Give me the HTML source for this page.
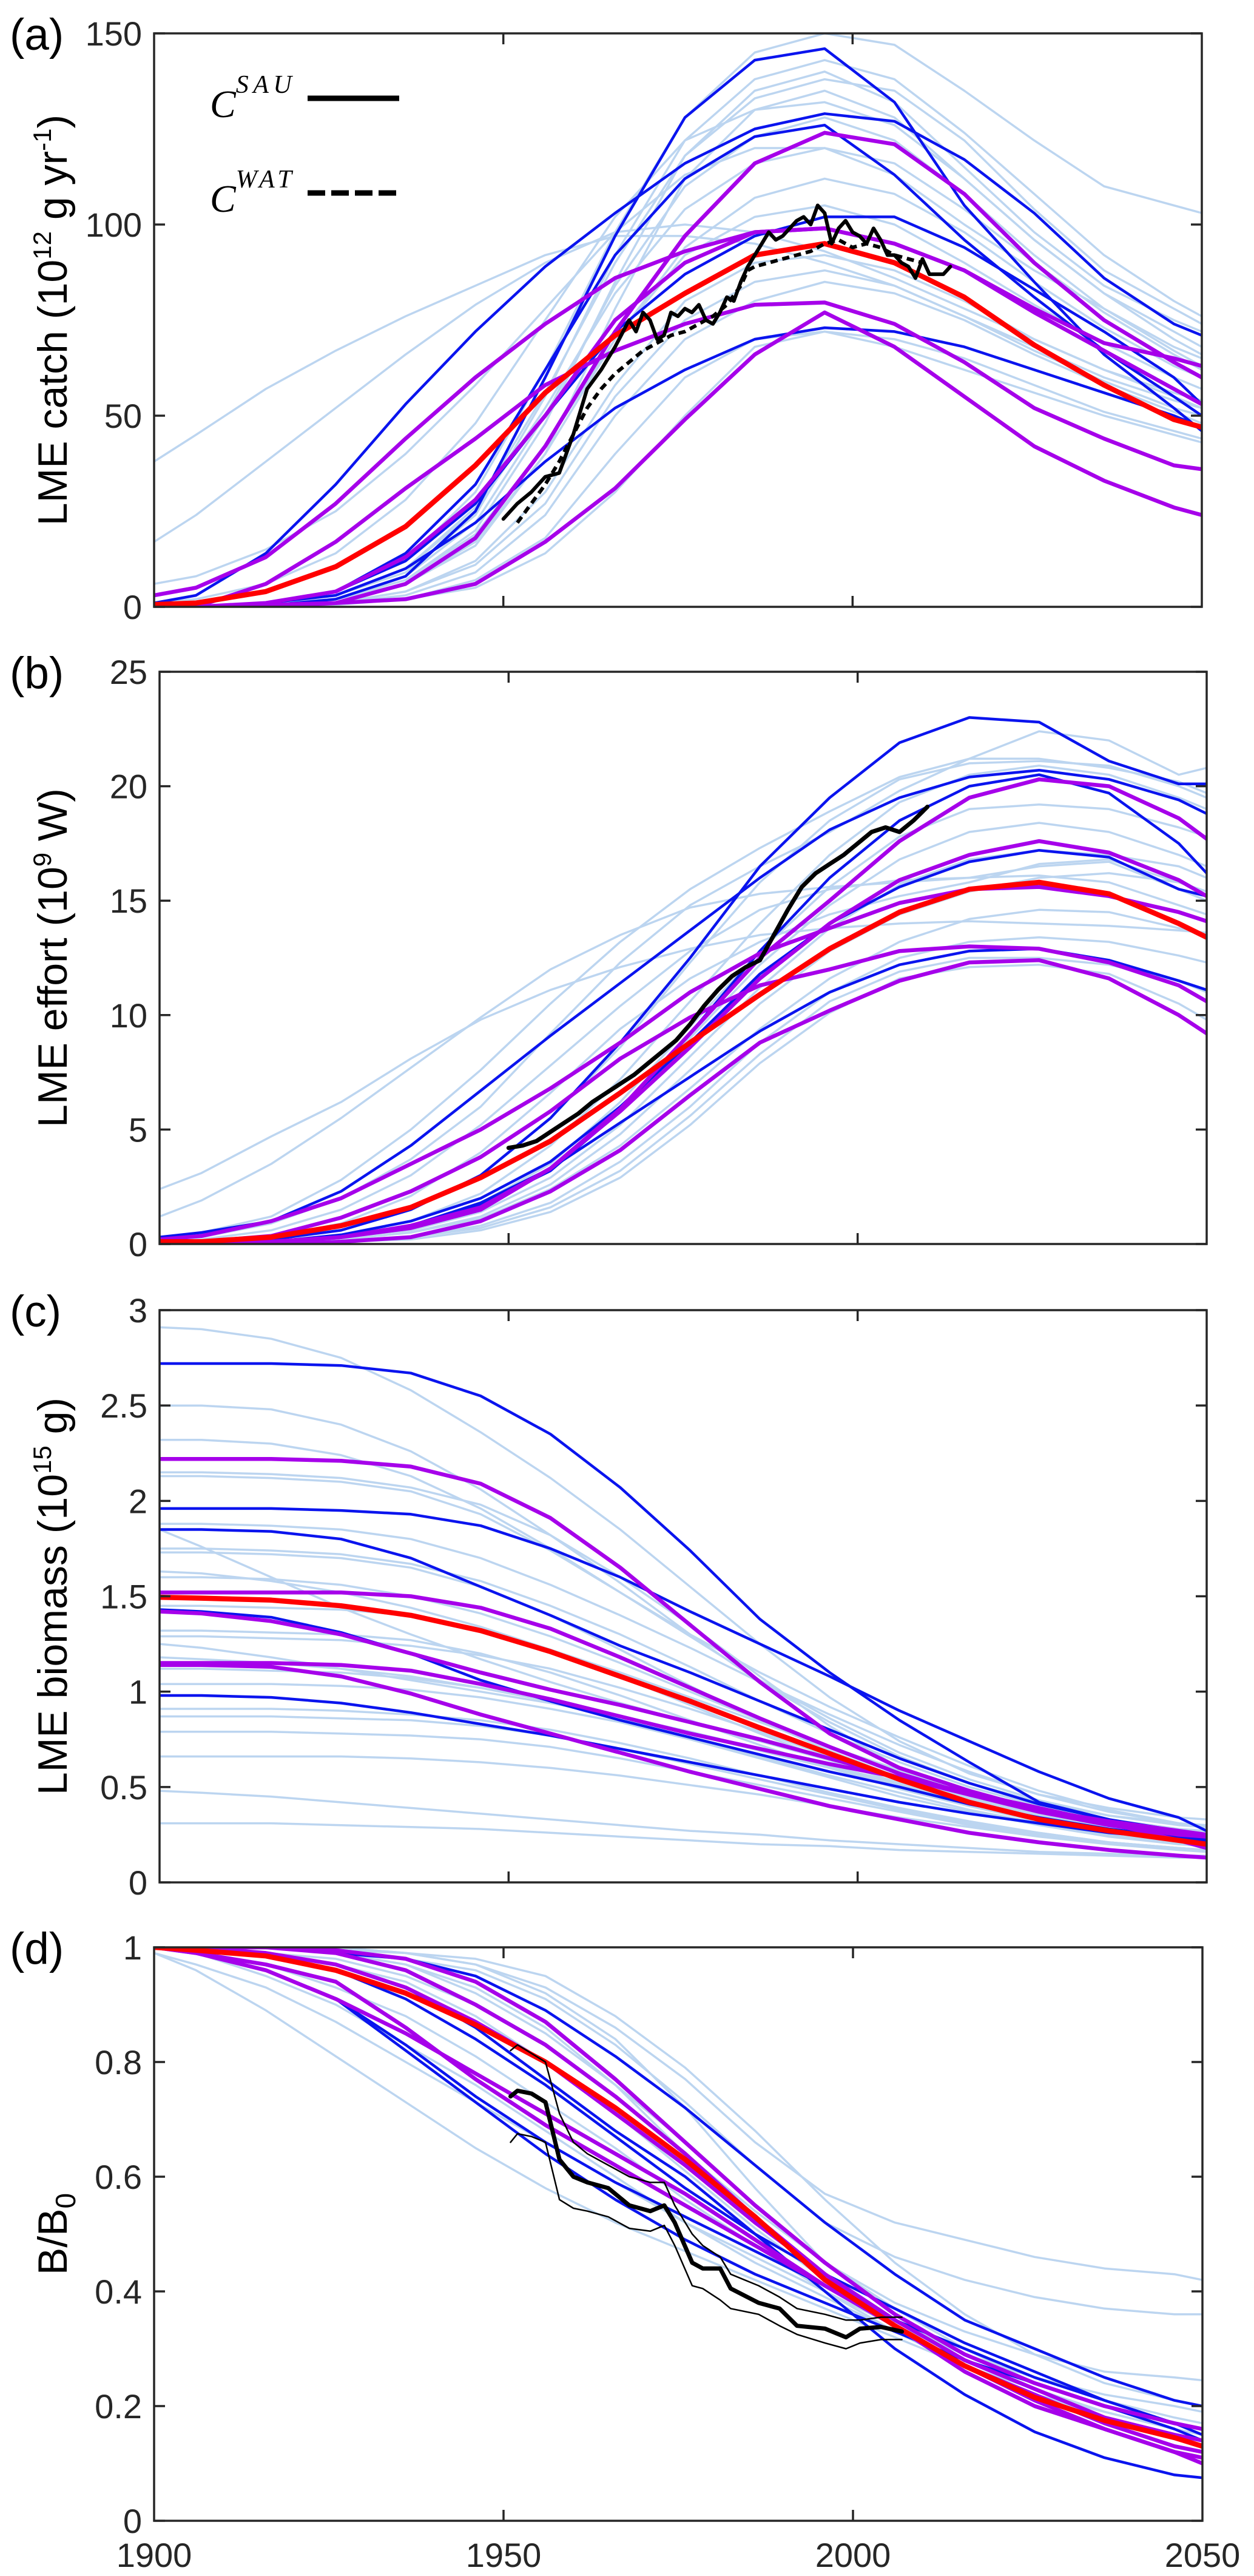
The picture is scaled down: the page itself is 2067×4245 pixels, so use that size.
<!DOCTYPE html>
<html><head><meta charset="utf-8"><style>
html,body{margin:0;padding:0;background:#fff;}
svg{display:block;font-family:"Liberation Sans",Arial,sans-serif;}
</style></head><body>
<svg id="fig" width="2067" height="4245" viewBox="0 0 2067 4245" xmlns="http://www.w3.org/2000/svg">
<rect width="2067" height="4245" fill="#fff"/>
</svg>
<script>
// ---------- shared model years ----------
const years = [1900,1906,1916,1926,1936,1946,1956,1966,1976,1986,1996,2006,2016,2026,2036,2046,2050];

// ---------- panel (a) catch ----------
const catchLight = [
[0,0,1,4,12,30,62,98,128,145,150,147,135,122,110,105,103],
[0,0,1,3,9,24,55,92,122,138,143,138,124,108,92,80,76],
[0,0,0.5,2,7,20,48,85,118,135,140,132,115,98,84,75,72],
[0,0,1,3,10,26,56,90,118,133,138,135,122,104,88,78,74],
[0,0,0.5,2,6,16,40,78,112,130,135,128,112,96,82,72,68],
[1,2,6,14,28,48,75,102,122,130,132,126,112,96,82,70,66],
[0,0,0.5,2,8,22,50,84,110,123,128,122,108,92,78,67,63],
[0,0,1,3,10,25,52,82,104,116,120,116,104,90,77,66,62],
[0,0,0.5,2,6,17,40,70,94,107,112,108,98,85,73,63,60],
[0,0,1,2,7,19,42,70,92,102,105,100,90,79,69,60,57],
[0,0,0.5,1,4,12,30,58,80,90,92,88,80,70,62,55,52],
[0,0,0.5,1,4,11,27,55,75,85,88,84,76,67,59,52,50],
[0,0,0.5,1,3,9,24,50,70,80,85,82,75,66,58,51,48],
[0,0,0,1,2,7,18,40,60,70,72,70,65,58,51,46,44],
[38,45,57,67,76,84,92,97,97,95,90,84,76,68,60,54,52],
[17,24,38,52,66,79,90,98,100,98,93,86,78,70,62,56,54],
[6,8,15,25,40,58,78,98,113,120,120,113,100,88,78,68,65],
[0,0,0,0.5,2,5,14,30,50,68,72,68,62,56,50,45,43]
];
const catchBlue = [
[0,0,0.3,2,8,25,60,97,128,143,146,132,105,85,66,52,46],
[1,3,14,32,53,72,89,103,116,125,129,127,117,103,86,74,71],
[0,0,1,4,14,32,62,92,112,123,126,113,96,81,67,55,50],
[0,0,1,4,12,27,50,72,87,97,102,102,94,83,72,60,53],
[0,0,1,3,10,22,38,52,62,70,73,72,68,62,56,50,47]
];
const catchPurple = [
[0,0,0.5,1,6,18,42,72,97,116,124,121,108,90,75,64,60],
[3,5,13,27,44,60,74,86,93,98,99,95,88,78,69,65,63],
[0,0,1,4,13,28,50,75,90,98,99,95,88,77,67,57,53],
[0,0,6,17,31,44,58,67,74,79,79.6,74,64,52,44,37,36],
[0,0,0,1,2,6,17,31,49,66,77,68,55,42,33,26,24]
];
const catchRed = [0.6,1,4,10.5,21,37,56,71,82,92,95,90,81,68.5,58,49,47];
const sauYears = [1950,1952,1954,1956,1958,1960,1962,1964,1966,1968,1969,1970,1971,1972,1973,1974,1975,1976,1977,1978,1979,1980,1981,1982,1983,1984,1985,1986,1987,1988,1989,1990,1991,1992,1993,1994,1995,1996,1997,1998,1999,2000,2001,2002,2003,2004,2005,2006,2007,2008,2009,2010,2011,2012,2013,2014];
const sauValues = [23,27,30,34,35,45,57,62,68,75,72,77,75,70,71,77,76,78,77,79,75,74,77,81,80,85,89,92,95,98,96,97,99,101,102,100,105,103,95,99,101,98,97,95,99,96,92,92,90,89,86,91,87,87,87,89];
const watYears = [1952,1954,1956,1958,1960,1962,1964,1966,1968,1970,1972,1974,1976,1978,1980,1982,1984,1985,1986,1988,1990,1992,1994,1996,1998,2000,2002,2004,2006,2008,2010];
const watValues = [22,27,32,38,45,52,57,61,64,67,69,71,72,74,76,79,84,88,89,90,91,92,93,95,96,94,95,94,92,91,90];

// ---------- panel (b) effort ----------
const effortLight = [
[2.4,3.1,4.7,6.2,8.1,9.8,11.1,12.1,12.9,13.5,13.8,14.0,14.1,14.0,13.9,13.7,13.6],
[1.2,1.9,3.5,5.5,7.7,9.9,12.0,13.5,14.7,15.3,15.6,15.8,16.0,16.5,16.7,15.5,15],
[0.3,0.5,1.2,2.8,5,7.6,10.5,13.2,15.5,17.3,18.9,20.4,21.2,21.2,20.8,20.2,19.7],
[0.2,0.3,0.9,2,3.7,6,9.2,12.3,14.8,16.5,18,19.8,21.2,22.4,22,20.5,20.8],
[0,0,0.2,0.6,1.5,3,5.5,8.6,12.3,15.8,18.5,20.3,21,21.1,20.9,20,19.5],
[0,0,0.1,0.4,1,2.2,4.3,7.2,10.6,14,17,19.3,20.5,20.9,20.5,19.5,19],
[0,0,0.1,0.3,0.8,1.8,3.5,6.2,9.5,12.8,15.6,17.8,19.0,19.2,19,18.2,17.8],
[0,0,0.1,0.3,0.7,1.6,3.2,5.8,9.0,12.2,14.8,16.8,18,18.4,18,17,16.5],
[0,0,0.1,0.3,0.6,1.4,2.9,5.2,8.2,11.2,13.8,15.7,16.8,17.2,17,16.5,16],
[0,0,0,0.2,0.5,1.2,2.6,4.8,7.6,10.5,12.8,14.4,15.4,16,16.2,15.8,15.4],
[0,0,0.1,0.2,0.5,1.1,2.4,4.3,6.8,9.4,11.6,13.2,14.2,14.6,14.5,13.8,13.5],
[0,0,0,0.1,0.3,0.8,1.8,3.6,6,8.8,11,12.5,13.2,13.4,13.2,12.6,12.3],
[0,0,0,0.1,0.3,0.7,1.6,3.2,5.6,8.3,10.6,11.9,12.5,12.5,12.2,11.5,11],
[0,0,0,0.1,0.2,0.6,1.4,2.9,5.2,7.9,10.1,11.6,12.1,12.2,11.8,10.5,9.8],
[0,0.1,0.3,0.9,2.1,4,6.6,9.4,11.6,13.2,14.4,15.2,15.8,16.6,16.8,15.8,15.4],
[0.1,0.2,0.6,1.5,3,5.2,7.8,10.4,12.8,14.6,15.5,15.9,16,16.1,15.8,14.8,14.4]
];
const effortBlue = [
[0,0,0.2,0.6,1.5,3,5.5,8.8,12.5,16.5,19.5,21.9,23,22.8,21.1,20.1,20.1],
[0.3,0.5,1,2.3,4.3,6.7,9.1,11.4,13.7,16,18.1,19.5,20.4,20.7,20.3,19.4,18.8],
[0,0,0.1,0.3,0.7,1.7,3.2,5.8,9.2,12.8,16,18.5,20,20.5,19.7,17.5,16.2],
[0,0,0.1,0.4,1,2,3.6,6,8.8,11.8,14,15.6,16.7,17.2,16.9,15.5,15.2],
[0,0,0.1,0.3,0.8,1.8,3.3,5.3,7.3,9.3,11.0,12.2,12.8,12.9,12.4,11.5,11.1]
];
const effortPurple = [
[0,0,0.1,0.3,0.8,1.6,3.3,5.9,9.2,12.5,15,17.6,19.5,20.3,20.0,18.6,17.7],
[0,0,0.1,0.3,0.7,1.5,3.3,5.8,8.6,11.6,14.0,15.9,17.0,17.6,17.1,15.9,15.2],
[0.2,0.35,1,2,3.5,5,6.8,8.8,11,12.7,13.8,14.9,15.5,15.6,15.2,14.5,14.1],
[0,0.1,0.35,1.15,2.3,3.8,5.8,8.1,9.9,11.3,12,12.8,13,12.9,12.3,11.3,10.6],
[0,0,0,0.1,0.3,1,2.3,4.1,6.5,8.8,10.2,11.5,12.3,12.4,11.6,10,9.2]
];
const effortRed = [0.1,0.1,0.3,0.8,1.6,2.9,4.5,6.6,8.8,10.9,12.9,14.5,15.5,15.8,15.3,14.0,13.4];
const effObsYears = [1950,1952,1954,1956,1958,1960,1962,1964,1966,1968,1970,1972,1974,1976,1978,1980,1982,1984,1986,1988,1990,1992,1994,1996,1998,2000,2002,2004,2006,2008,2010];
const effObsValues = [4.2,4.3,4.5,4.9,5.3,5.7,6.2,6.6,7.0,7.4,7.9,8.4,8.9,9.6,10.4,11.1,11.7,12.1,12.4,13.5,14.6,15.6,16.2,16.6,17.0,17.5,18.0,18.2,18.0,18.5,19.1];

// ---------- panel (c) biomass ----------
const bioLight = [
[2.91,2.9,2.85,2.75,2.58,2.36,2.12,1.85,1.55,1.25,0.97,0.74,0.57,0.46,0.39,0.34,0.33],
[2.5,2.5,2.48,2.4,2.26,2.06,1.82,1.57,1.3,1.05,0.84,0.66,0.52,0.42,0.35,0.31,0.3],
[2.32,2.32,2.3,2.24,2.13,1.96,1.75,1.52,1.29,1.06,0.86,0.68,0.54,0.43,0.35,0.3,0.29],
[2.15,2.15,2.14,2.12,2.07,1.98,1.82,1.6,1.35,1.08,0.82,0.6,0.45,0.35,0.29,0.25,0.24],
[2.13,2.13,2.12,2.1,2.05,1.93,1.74,1.52,1.3,1.1,0.92,0.76,0.61,0.48,0.38,0.31,0.29],
[1.88,1.88,1.87,1.85,1.8,1.7,1.56,1.4,1.23,1.05,0.88,0.72,0.58,0.46,0.37,0.31,0.29],
[1.85,1.76,1.6,1.44,1.3,1.17,1.05,0.94,0.84,0.74,0.64,0.54,0.45,0.37,0.3,0.25,0.24],
[1.75,1.75,1.74,1.72,1.67,1.58,1.45,1.3,1.13,0.95,0.78,0.63,0.5,0.4,0.33,0.28,0.27],
[1.73,1.73,1.72,1.7,1.65,1.55,1.4,1.22,1.03,0.85,0.69,0.55,0.44,0.36,0.3,0.26,0.25],
[1.63,1.62,1.58,1.52,1.44,1.34,1.22,1.1,0.97,0.84,0.71,0.59,0.48,0.39,0.32,0.27,0.26],
[1.6,1.6,1.59,1.56,1.5,1.41,1.29,1.15,1.0,0.85,0.71,0.58,0.47,0.38,0.31,0.26,0.25],
[1.45,1.45,1.44,1.43,1.4,1.33,1.22,1.08,0.93,0.78,0.64,0.52,0.42,0.34,0.28,0.24,0.23],
[1.32,1.32,1.31,1.3,1.27,1.2,1.1,0.98,0.85,0.72,0.6,0.49,0.4,0.32,0.26,0.22,0.21],
[1.29,1.29,1.28,1.27,1.24,1.19,1.12,1.02,0.91,0.79,0.66,0.54,0.43,0.34,0.27,0.23,0.22],
[1.25,1.23,1.18,1.12,1.06,1.0,0.94,0.87,0.79,0.7,0.61,0.52,0.43,0.35,0.28,0.23,0.22],
[1.18,1.17,1.15,1.12,1.08,1.02,0.95,0.87,0.78,0.69,0.6,0.51,0.42,0.34,0.27,0.22,0.21],
[1.12,1.12,1.11,1.1,1.07,1.02,0.95,0.86,0.76,0.66,0.56,0.47,0.38,0.31,0.25,0.21,0.2],
[1.04,1.04,1.04,1.03,1.01,0.97,0.91,0.84,0.75,0.65,0.55,0.45,0.37,0.3,0.24,0.2,0.19],
[0.91,0.91,0.91,0.9,0.88,0.85,0.8,0.73,0.65,0.56,0.47,0.39,0.32,0.26,0.21,0.18,0.17],
[0.87,0.87,0.87,0.86,0.85,0.82,0.77,0.7,0.62,0.54,0.46,0.38,0.31,0.26,0.21,0.18,0.17],
[0.79,0.79,0.79,0.78,0.77,0.75,0.71,0.65,0.58,0.51,0.44,0.37,0.3,0.25,0.21,0.18,0.17],
[0.66,0.66,0.66,0.66,0.65,0.63,0.6,0.56,0.51,0.46,0.4,0.34,0.29,0.24,0.2,0.17,0.16],
[0.48,0.47,0.45,0.42,0.39,0.36,0.33,0.3,0.27,0.25,0.22,0.2,0.18,0.16,0.15,0.14,0.14],
[0.31,0.31,0.31,0.3,0.29,0.28,0.26,0.24,0.22,0.2,0.19,0.17,0.16,0.15,0.14,0.13,0.13]
];
const bioBlue = [
[2.72,2.72,2.72,2.71,2.67,2.55,2.35,2.07,1.74,1.38,1.1,0.85,0.63,0.42,0.33,0.25,0.23],
[1.96,1.96,1.96,1.95,1.93,1.87,1.75,1.6,1.42,1.25,1.08,0.9,0.74,0.58,0.44,0.34,0.27],
[1.85,1.85,1.84,1.8,1.7,1.55,1.40,1.24,1.10,0.95,0.80,0.65,0.52,0.41,0.33,0.27,0.24],
[1.43,1.42,1.39,1.31,1.20,1.06,0.95,0.85,0.76,0.67,0.58,0.50,0.41,0.34,0.28,0.24,0.22],
[0.98,0.98,0.97,0.94,0.89,0.83,0.77,0.70,0.63,0.56,0.49,0.42,0.36,0.31,0.26,0.23,0.22]
];
const bioPurple = [
[2.22,2.22,2.22,2.21,2.18,2.09,1.91,1.65,1.35,1.05,0.78,0.6,0.48,0.38,0.31,0.26,0.25],
[1.52,1.52,1.52,1.52,1.50,1.44,1.33,1.18,1.02,0.86,0.71,0.57,0.46,0.37,0.30,0.25,0.24],
[1.42,1.41,1.37,1.30,1.20,1.10,1.01,0.93,0.84,0.75,0.65,0.55,0.46,0.38,0.32,0.27,0.25],
[1.15,1.15,1.15,1.14,1.11,1.04,0.96,0.87,0.78,0.70,0.62,0.55,0.47,0.39,0.31,0.22,0.18],
[1.14,1.14,1.13,1.08,0.99,0.88,0.78,0.68,0.58,0.49,0.40,0.33,0.26,0.21,0.17,0.14,0.13]
];
const bioRed = [1.495,1.49,1.48,1.45,1.40,1.32,1.21,1.08,0.95,0.81,0.675,0.54,0.42,0.33,0.27,0.22,0.2];

// ---------- panel (d) B/B0 ----------
const relLight = [
[0.99,0.96,0.89,0.81,0.73,0.65,0.58,0.52,0.47,0.42,0.37,0.32,0.27,0.23,0.19,0.16,0.15],
[1,1,1,1,0.99,0.97,0.93,0.86,0.77,0.66,0.57,0.52,0.49,0.46,0.44,0.43,0.42],
[1,1,1,0.99,0.98,0.96,0.91,0.83,0.73,0.62,0.52,0.46,0.42,0.39,0.37,0.36,0.36],
[1,1,1,0.995,0.99,0.97,0.92,0.84,0.72,0.58,0.45,0.38,0.33,0.29,0.26,0.25,0.245],
[1,1,1,0.99,0.97,0.93,0.86,0.76,0.64,0.53,0.43,0.35,0.29,0.25,0.22,0.20,0.19],
[1,1,0.99,0.98,0.95,0.90,0.83,0.74,0.64,0.54,0.45,0.37,0.3,0.25,0.21,0.18,0.17],
[1,0.99,0.97,0.93,0.88,0.81,0.73,0.65,0.56,0.48,0.40,0.33,0.27,0.22,0.19,0.16,0.15],
[1,0.99,0.95,0.90,0.83,0.76,0.68,0.60,0.52,0.45,0.39,0.33,0.28,0.23,0.19,0.16,0.15],
[1,1,0.99,0.97,0.94,0.88,0.80,0.71,0.61,0.51,0.42,0.34,0.27,0.22,0.18,0.15,0.14],
[1,1,1,0.99,0.97,0.92,0.85,0.76,0.66,0.55,0.45,0.37,0.30,0.24,0.2,0.17,0.16],
[0.99,0.97,0.93,0.87,0.80,0.73,0.66,0.59,0.52,0.46,0.40,0.34,0.29,0.24,0.20,0.17,0.16],
[1,1,1,1,0.99,0.98,0.95,0.88,0.79,0.68,0.56,0.45,0.36,0.29,0.24,0.21,0.2]
];
const relBlue = [
[1,1,1,0.99,0.98,0.95,0.89,0.81,0.72,0.62,0.52,0.43,0.35,0.30,0.25,0.21,0.20],
[1,1,0.99,0.96,0.91,0.84,0.76,0.67,0.58,0.50,0.43,0.37,0.31,0.26,0.21,0.17,0.16],
[1,1,0.99,0.97,0.93,0.86,0.77,0.68,0.6,0.5,0.4,0.3,0.22,0.155,0.11,0.08,0.075],
[1,0.99,0.96,0.91,0.83,0.74,0.66,0.59,0.53,0.47,0.41,0.35,0.30,0.25,0.21,0.17,0.15],
[1,0.99,0.96,0.91,0.82,0.73,0.64,0.56,0.49,0.43,0.38,0.33,0.28,0.24,0.20,0.16,0.14]
];
const relPurple = [
[1,1,1,0.995,0.98,0.94,0.87,0.77,0.66,0.55,0.45,0.36,0.29,0.24,0.20,0.17,0.16],
[1,1,1,0.99,0.96,0.90,0.83,0.74,0.64,0.53,0.43,0.34,0.26,0.20,0.16,0.12,0.11],
[1,0.99,0.96,0.91,0.85,0.78,0.71,0.64,0.57,0.49,0.41,0.34,0.27,0.22,0.17,0.13,0.12],
[1,0.99,0.97,0.94,0.86,0.77,0.69,0.62,0.55,0.48,0.41,0.34,0.27,0.21,0.16,0.12,0.10],
[1,1,0.99,0.97,0.93,0.87,0.8,0.71,0.62,0.52,0.43,0.35,0.28,0.23,0.18,0.15,0.14]
];
const relRed = [1.0,0.995,0.985,0.96,0.92,0.865,0.8,0.72,0.63,0.53,0.42,0.34,0.27,0.215,0.175,0.145,0.13];
const relObsYears = [1951,1952,1954,1956,1958,1960,1962,1965,1968,1971,1973,1974.5,1977,1978.5,1981,1982.5,1986.5,1989.5,1992,1996,1999,2001,2004,2007];
const relObsMid = [0.74,0.75,0.745,0.73,0.63,0.60,0.59,0.58,0.55,0.54,0.55,0.52,0.45,0.44,0.44,0.405,0.38,0.37,0.34,0.335,0.32,0.335,0.338,0.33];
const relObsUpper = [0.82,0.83,0.815,0.80,0.71,0.66,0.64,0.62,0.60,0.59,0.59,0.55,0.50,0.48,0.46,0.43,0.41,0.39,0.37,0.36,0.35,0.35,0.355,0.355];
const relObsLower = [0.66,0.675,0.67,0.66,0.56,0.545,0.54,0.53,0.51,0.505,0.515,0.48,0.41,0.405,0.385,0.37,0.36,0.34,0.325,0.31,0.30,0.31,0.316,0.316];

// ---------- drawing ----------
const NS = "http://www.w3.org/2000/svg";
const svg = document.getElementById('fig');
function mk(tag, attrs, parent) {
  const e = document.createElementNS(NS, tag);
  for (const k in attrs) e.setAttribute(k, attrs[k]);
  (parent || svg).appendChild(e);
  return e;
}
const AX = '#262626';
const COL = {light:'#bcd5f0', blue:'#0a14ee', purple:'#a600ea', red:'#ff0000', black:'#000'};

function makePanel(cfg) {
  const g = mk('g', {});
  
  
  const xs = y => cfg.left + (y - 1900) / 150 * (cfg.right - cfg.left);
  const ys = v => cfg.bottom - v / cfg.ymax * (cfg.bottom - cfg.top);
  const clipId = 'clip-' + cfg.name;
  const cp = mk('clipPath', {id: clipId}, g);
  mk('rect', {x: cfg.left, y: cfg.top, width: cfg.right - cfg.left, height: cfg.bottom - cfg.top}, cp);
  const plot = mk('g', {'clip-path': 'url(#' + clipId + ')'}, g);
  function line(xv, yv, color, w, name, dash) {
    const d = xv.map((x, i) => (i ? 'L' : 'M') + xs(x).toFixed(1) + ' ' + ys(yv[i]).toFixed(1)).join(' ');
    const p = mk('path', {d: d, fill: 'none', stroke: color, 'stroke-width': w, 'stroke-linejoin': 'round', 'stroke-linecap': dash ? 'butt' : 'round'}, plot);
    if (dash) p.setAttribute('stroke-dasharray', dash);
    
    
    return p;
  }
  cfg.light.forEach((s, i) => line(years, s, COL.light, 3.5, 'lme-light-line-' + (i + 1)));
  cfg.blue.forEach((s, i) => line(years, s, COL.blue, 4.5, 'model-blue-line-' + (i + 1)));
  cfg.purple.forEach((s, i) => line(years, s, COL.purple, 6.5, 'model-purple-line-' + (i + 1)));
  line(years, cfg.red, COL.red, 8.5, 'ensemble-mean-red-line');
  if (cfg.extra) cfg.extra(line);
  // axes box
  const box = mk('rect', {x: cfg.left, y: cfg.top, width: cfg.right - cfg.left, height: cfg.bottom - cfg.top, fill: 'none', stroke: AX, 'stroke-width': 3.5}, g);
  
  
  // y ticks
  cfg.yticks.forEach((t, i) => {
    const y = ys(t);
    mk('line', {x1: cfg.left, x2: cfg.left + 18, y1: y, y2: y, stroke: AX, 'stroke-width': 3.5}, g);
    mk('line', {x1: cfg.right, x2: cfg.right - 18, y1: y, y2: y, stroke: AX, 'stroke-width': 3.5}, g);
    const tx = mk('text', {x: cfg.left - 20, y: y + 20, 'text-anchor': 'end', 'font-size': 56, fill: AX}, g);
    tx.textContent = cfg.ytickLabels[i];
    
    
  });
  // x ticks
  [1950, 2000].forEach(t => {
    const x = xs(t);
    mk('line', {x1: x, x2: x, y1: cfg.bottom, y2: cfg.bottom - 18, stroke: AX, 'stroke-width': 3.5}, g);
    mk('line', {x1: x, x2: x, y1: cfg.top, y2: cfg.top + 18, stroke: AX, 'stroke-width': 3.5}, g);
  });
  if (cfg.xlabels) {
    xTickLabels.forEach(t => {
      const tx = mk('text', {x: xs(t), y: cfg.bottom + 76, 'text-anchor': 'middle', 'font-size': 56, fill: AX}, g);
      tx.textContent = String(t);
      
      
    });
  }
  // panel letter
  const pl = mk('text', {x: 16, y: cfg.top + 27, 'font-size': 73, fill: '#000'}, g);
  pl.textContent = cfg.letter;
  
  
  // y axis title
  const cy = (cfg.top + cfg.bottom) / 2;
  const yt = mk('text', {x: 0, y: 0, transform: 'translate(110 ' + cy + ') rotate(-90)', 'text-anchor': 'middle', 'font-size': 68, fill: '#000'}, g);
  yt.innerHTML = cfg.ytitle;
  
  
  return {xs, ys, g};
}
const xTickLabels = [1900, 1950, 2000, 2050];

const pa = makePanel({name: 'panel-a-catch', letter: '(a)', left: 254, right: 1981, top: 55, bottom: 1000, ymax: 150,
  yticks: [0, 50, 100, 150], ytickLabels: ['0', '50', '100', '150'],
  ytitle: 'LME catch (10<tspan dy="-26" font-size="42">12</tspan><tspan dy="26"> g yr</tspan><tspan dy="-26" font-size="42">-1</tspan><tspan dy="26">)</tspan>',
  light: catchLight, blue: catchBlue, purple: catchPurple, red: catchRed,
  extra: line => {
    line(watYears, watValues, COL.black, 6, 'catch-wat-observed', '12 8');
    line(sauYears, sauValues, COL.black, 6, 'catch-sau-observed');
  }});
const pb = makePanel({name: 'panel-b-effort', letter: '(b)', left: 263, right: 1989, top: 1107, bottom: 2050, ymax: 25,
  yticks: [0, 5, 10, 15, 20, 25], ytickLabels: ['0', '5', '10', '15', '20', '25'],
  ytitle: 'LME effort (10<tspan dy="-26" font-size="42">9</tspan><tspan dy="26"> W)</tspan>',
  light: effortLight, blue: effortBlue, purple: effortPurple, red: effortRed,
  extra: line => { line(effObsYears, effObsValues, COL.black, 7, 'effort-observed'); }});
const pc = makePanel({name: 'panel-c-biomass', letter: '(c)', left: 263, right: 1989, top: 2159, bottom: 3102, ymax: 3,
  yticks: [0, 0.5, 1, 1.5, 2, 2.5, 3], ytickLabels: ['0', '0.5', '1', '1.5', '2', '2.5', '3'],
  ytitle: 'LME biomass (10<tspan dy="-26" font-size="42">15</tspan><tspan dy="26"> g)</tspan>',
  light: bioLight, blue: bioBlue, purple: bioPurple, red: bioRed});
const pd = makePanel({name: 'panel-d-relative-biomass', letter: '(d)', left: 254, right: 1982, top: 3209, bottom: 4154, ymax: 1,
  yticks: [0, 0.2, 0.4, 0.6, 0.8, 1], ytickLabels: ['0', '0.2', '0.4', '0.6', '0.8', '1'],
  ytitle: 'B/B<tspan dy="14" font-size="46">0</tspan>', xlabels: true,
  light: relLight, blue: relBlue, purple: relPurple, red: relRed,
  extra: line => {
    line(relObsYears, relObsUpper, COL.black, 2.5, 'rel-observed-upper');
    line(relObsYears, relObsLower, COL.black, 2.5, 'rel-observed-lower');
    line(relObsYears, relObsMid, COL.black, 7, 'rel-observed-mean');
  }});

// legend in panel a
const lg = mk('g', {});


function legendEntry(label, y, dash, name) {
  const e = mk('g', {}, lg);
  
  
  const t = mk('text', {x: 346, y: y, 'font-family': '"Liberation Serif",serif', 'font-style': 'italic', 'font-size': 64, fill: '#000'}, e);
  t.innerHTML = 'C<tspan dy="-40" font-size="42" textLength="92">' + label + '</tspan>';
  const l = mk('line', {x1: 507, x2: 658, y1: y - 31, y2: y - 31, stroke: '#000', 'stroke-width': 9}, e);
  if (dash) l.setAttribute('stroke-dasharray', '29 10');
}
legendEntry('SAU', 193, false, 'legend-entry-sau');
legendEntry('WAT', 349, true, 'legend-entry-wat');
</script>
</body></html>
